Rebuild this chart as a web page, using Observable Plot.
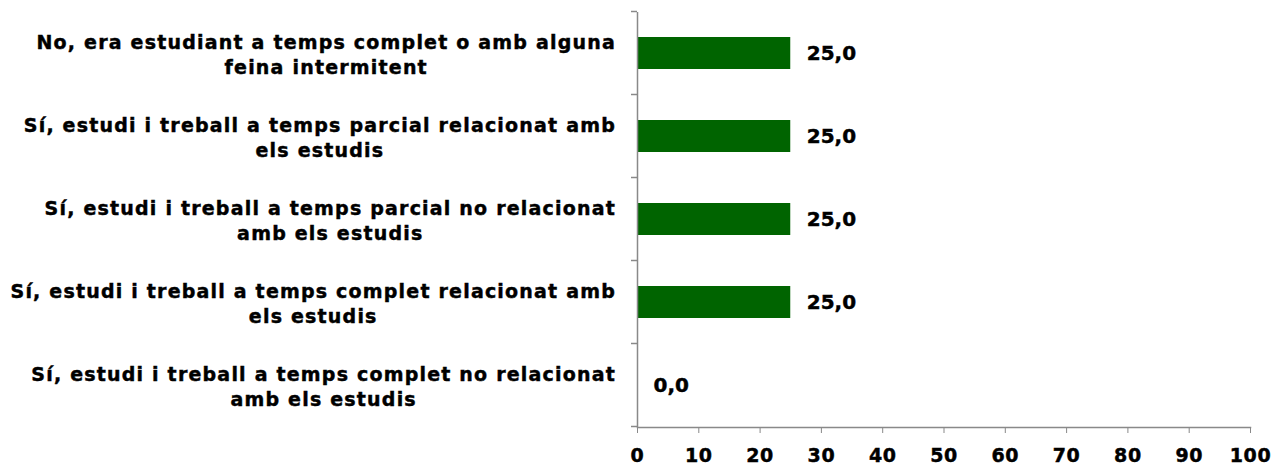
<!DOCTYPE html>
<html>
<head>
<meta charset="utf-8">
<script src="https://cdn.jsdelivr.net/npm/d3@7"></script>
<script src="https://cdn.jsdelivr.net/npm/@observablehq/plot@0.6"></script>
<style>
  html, body { margin: 0; padding: 0; background: #fff; }
  svg { display: block; }
  svg text { stroke: #000; stroke-width: 0.45px; }
  g[aria-label="y-axis tick label"] text { letter-spacing: 1.2px; }
  g[aria-label="x-axis tick label"] text { letter-spacing: 0.6px; }
</style>
</head>
<body>
<div id="chart"></div>
<script>
const categories = [
  "No, era estudiant a temps complet o amb alguna\nfeina intermitent",
  "Sí, estudi i treball a temps parcial relacionat amb\nels estudis",
  "Sí, estudi i treball a temps parcial no relacionat\namb els estudis",
  "Sí, estudi i treball a temps complet relacionat amb\nels estudis",
  "Sí, estudi i treball a temps complet no relacionat\namb els estudis"
];
const values = [25.0, 25.0, 25.0, 25.0, 0.0];
const xTicks = [0, 10, 20, 30, 40, 50, 60, 70, 80, 90, 100];

const data = categories.map((c, i) => ({category: c, value: values[i]}));
const fmt = v => v.toFixed(1).replace(".", ",");
const axisColor = "#898989";

const plot = Plot.plot({
  width: 1274,
  height: 465,
  marginLeft: 637,
  marginRight: 24,
  marginTop: 12,
  marginBottom: 38,
  style: {fontFamily: "DejaVu Sans, Verdana, sans-serif", fontWeight: "bold", color: "#000", background: "#fff"},
  x: {domain: [0, 100], ticks: xTicks},
  y: {domain: categories, paddingInner: 0.61, paddingOuter: 0.305, align: 0.5},
  marks: [
    Plot.barX(data, {x: "value", y: "category", fill: "#006400"}),
    Plot.text(data, {x: "value", y: "category", text: d => fmt(d.value), textAnchor: "start", dx: 16, fontSize: 20, fontWeight: "bold", fill: "#000"}),
    Plot.axisY({tickSize: 0, tickPadding: 0, textAnchor: "middle", dx: -312, fontSize: 19, lineHeight: 1.32, label: null, fill: "#000"}),
    Plot.axisX({ticks: xTicks, tickSize: 6, tickPadding: 15, fontSize: 19, label: null, stroke: axisColor, fill: "#000", tickFormat: d => String(d)}),
    Plot.ruleX([0], {stroke: axisColor, strokeWidth: 1.5}),
    Plot.frame({anchor: "bottom", stroke: axisColor, strokeWidth: 1.5})
  ]
});

document.getElementById("chart").appendChild(plot);

const ys = plot.scale("y");
const xs = plot.scale("x");
const x0 = xs.apply(0);

// Excel-style label blocks: lines centred, block right-aligned near the axis
const svgLeft = plot.getBoundingClientRect().left;
d3.select(plot).selectAll('g[aria-label="y-axis tick label"] text').each(function() {
  const r = this.getBoundingClientRect();
  const shift = (x0 - 21) - (r.right - svgLeft);
  const t = this.getAttribute("transform") || "";
  this.setAttribute("transform", `translate(${shift},0) ${t}`);
});

// boundary ticks on the y axis, positioned from the band scale
const bounds = categories.map(c => ys.apply(c) + ys.bandwidth / 2 - ys.step / 2);
bounds.push(ys.apply(categories[categories.length - 1]) + ys.bandwidth / 2 + ys.step / 2);
d3.select(plot).append("g")
  .attr("stroke", axisColor)
  .attr("stroke-width", 1.5)
  .selectAll("line")
  .data(bounds)
  .join("line")
  .attr("x1", x0 - 6)
  .attr("x2", x0)
  .attr("y1", d => d)
  .attr("y2", d => d);
</script>
</body>
</html>
